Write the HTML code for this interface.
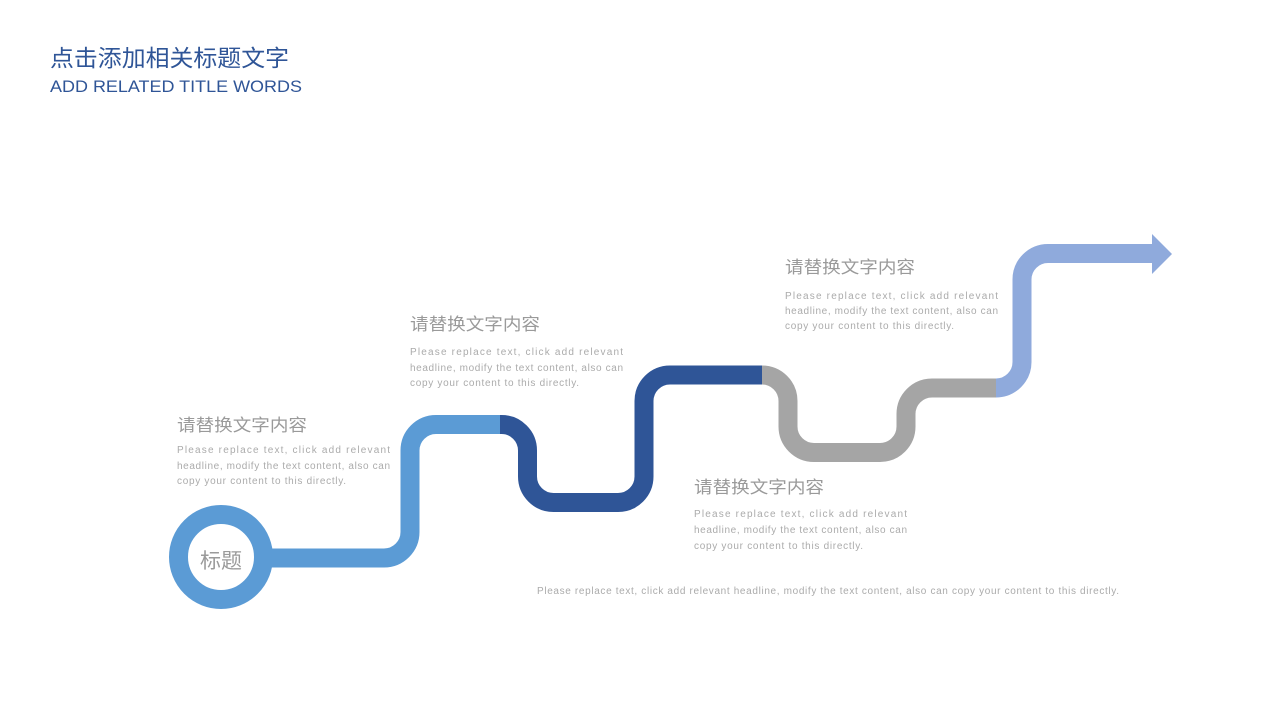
<!DOCTYPE html>
<html><head><meta charset="utf-8"><style>
html,body{margin:0;padding:0;background:#fff;}
svg{display:block;}
text{font-family:"Liberation Sans","Noto Sans CJK SC",sans-serif;}
</style></head><body>
<svg width="1280" height="720" viewBox="0 0 1280 720" xmlns="http://www.w3.org/2000/svg">
<text x="50" y="66" font-size="23" fill="#2F5597" textLength="239" lengthAdjust="spacingAndGlyphs">点击添加相关标题文字</text>
<text x="50" y="92" font-size="17" fill="#2F5597" textLength="252" lengthAdjust="spacingAndGlyphs">ADD RELATED TITLE WORDS</text>

<g fill="none" stroke-width="19">
<circle cx="221" cy="557" r="42.5" stroke="#5B9BD5"/>
<path d="M262,558 H384 A26,26 0 0 0 410,532 V450.5 A26,26 0 0 1 436,424.5 H500" stroke="#5B9BD5"/>
<path d="M500,424.5 H501.5 A26,26 0 0 1 527.5,450.5 V476.5 A26,26 0 0 0 553.5,502.5 H618 A26,26 0 0 0 644,476.5 V401 A26,26 0 0 1 670,375 H762" stroke="#2F5597"/>
<path d="M762,375 A26,26 0 0 1 788,401 V426.5 A26,26 0 0 0 814,452.5 H880 A26,26 0 0 0 906,426.5 V414 A26,26 0 0 1 932,388 H996" stroke="#A5A5A5"/>
<path d="M996,388 A26,26 0 0 0 1022,362 V279.5 A26,26 0 0 1 1048,253.5 H1153" stroke="#8FAADC"/>
</g>
<polygon points="1152,234 1172,254 1152,274" fill="#8FAADC"/>
<text x="221" y="568" font-size="21" fill="#9a9a9a" text-anchor="middle">标题</text>

<g fill="#9a9a9a" font-size="17">
<text x="177" y="431" textLength="130" lengthAdjust="spacingAndGlyphs">请替换文字内容</text>
<text x="410" y="330" textLength="130" lengthAdjust="spacingAndGlyphs">请替换文字内容</text>
<text x="694" y="493" textLength="130" lengthAdjust="spacingAndGlyphs">请替换文字内容</text>
<text x="785" y="273" textLength="130" lengthAdjust="spacingAndGlyphs">请替换文字内容</text>
</g>
<g fill="#ababab" font-size="10">
<text x="177" y="453" textLength="213">Please replace text, click add relevant</text>
<text x="177" y="469" textLength="213">headline, modify the text content, also can</text>
<text x="177" y="484" textLength="169">copy your content to this directly.</text>
<text x="410" y="355" textLength="213">Please replace text, click add relevant</text>
<text x="410" y="371" textLength="213">headline, modify the text content, also can</text>
<text x="410" y="386" textLength="169">copy your content to this directly.</text>
<text x="694" y="517" textLength="213">Please replace text, click add relevant</text>
<text x="694" y="533" textLength="213">headline, modify the text content, also can</text>
<text x="694" y="549" textLength="169">copy your content to this directly.</text>
<text x="785" y="299" textLength="213">Please replace text, click add relevant</text>
<text x="785" y="314" textLength="213">headline, modify the text content, also can</text>
<text x="785" y="329" textLength="169">copy your content to this directly.</text>
<text x="537" y="594" textLength="582">Please replace text, click add relevant headline, modify the text content, also can copy your content to this directly.</text>
</g>
</svg>
</body></html>
